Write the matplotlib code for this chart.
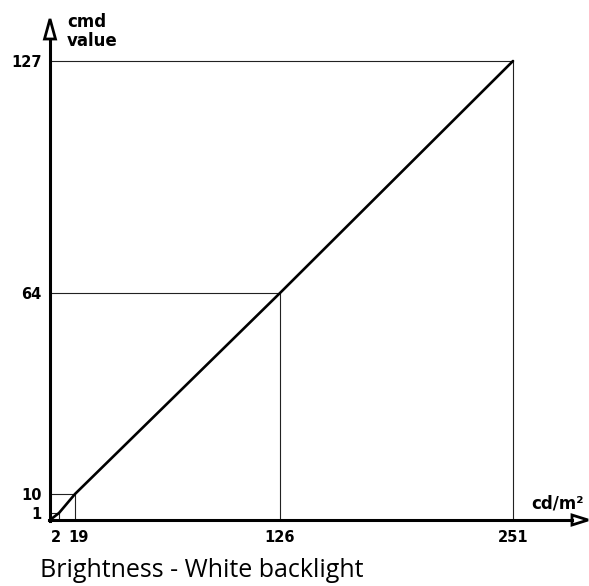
import numpy as np
import matplotlib.pyplot as plt
import matplotlib.transforms as mtransforms
from matplotlib.patches import Polygon

# brightness (cd/m2) vs command value
cd_values = [2, 19, 126, 251]
cmd_values = [1, 10, 64, 127]
x_ticks = [2, 19, 126, 251]
y_ticks = [1, 10, 64, 127]
title = 'Brightness - White backlight'

W, H = 589, 586


def px(x, y):
    # pixel (from top-left) -> figure fraction
    return x / W, 1 - y / H


# the original drawing is schematic: low end stretched out a bit
xk = [0, 2, 19, 126, 251]
xp = [0, 9, 25, 230, 463]
yk = [0, 1, 10, 64, 127]
yp = [0, 7, 26, 227, 459]


def fwd_x(v):
    return np.interp(v, xk, xp)


def inv_x(v):
    return np.interp(v, xp, xk)


def fwd_y(v):
    return np.interp(v, yk, yp)


def inv_y(v):
    return np.interp(v, yp, yk)


fig = plt.figure(figsize=(W / 100, H / 100), dpi=100)
ax = fig.add_axes([50 / W, 66 / H, 463 / W, 459 / H])
ax.set_xscale('function', functions=(fwd_x, inv_x))
ax.set_yscale('function', functions=(fwd_y, inv_y))
ax.set_xlim(0, 251)
ax.set_ylim(0, 127)

for x, y in zip(cd_values, cmd_values):
    ax.hlines(y, 0, x, colors='#222222', lw=0.8, clip_on=False)
    ax.vlines(x, 0, y, colors='#222222', lw=0.8, clip_on=False)

ax.plot([0] + cd_values, [0] + cmd_values, color='black', lw=1.9,
        solid_capstyle='round', clip_on=False)

for s in ax.spines.values():
    s.set_visible(False)
ax.set_xticks(x_ticks)
ax.set_yticks(y_ticks)
ax.tick_params(length=0, labelsize=10.5)
ax.tick_params(axis='x', pad=7)
ax.tick_params(axis='y', pad=6)
for lab in ax.get_xticklabels() + ax.get_yticklabels():
    lab.set_fontweight('bold')

# pull the two crowded labels at the low end apart
xlabs = ax.get_xticklabels()
xlabs[0].set_transform(xlabs[0].get_transform() +
                       mtransforms.ScaledTranslation(-3 / 100, 0, fig.dpi_scale_trans))
xlabs[1].set_transform(xlabs[1].get_transform() +
                       mtransforms.ScaledTranslation(4 / 100, 0, fig.dpi_scale_trans))

# axis lines with open arrow heads
fig.add_artist(plt.Line2D(*zip(px(50, 521), px(50, 39)), color='black', lw=2.2))
fig.add_artist(plt.Line2D(*zip(px(49, 520), px(572, 520)), color='black', lw=2.2))
fig.add_artist(Polygon([px(50, 19), px(44.5, 39), px(55.5, 39)], closed=True,
                       fc='white', ec='black', lw=2, transform=fig.transFigure))
fig.add_artist(Polygon([px(588, 520), px(572, 515), px(572, 525)], closed=True,
                       fc='white', ec='black', lw=2, transform=fig.transFigure))

fig.text(*px(67, 27), 'cmd', fontsize=12, fontweight='bold',
         va='baseline', ha='left')
fig.text(*px(67, 46), 'value', fontsize=12, fontweight='bold',
         va='baseline', ha='left')
fig.text(*px(531, 509), 'cd/m²', fontsize=12, fontweight='bold',
         va='baseline', ha='left')
fig.text(*px(40, 577), title, fontsize=18, family='Open Sans',
         va='baseline', ha='left')

fig.savefig('out.png', dpi=100)
